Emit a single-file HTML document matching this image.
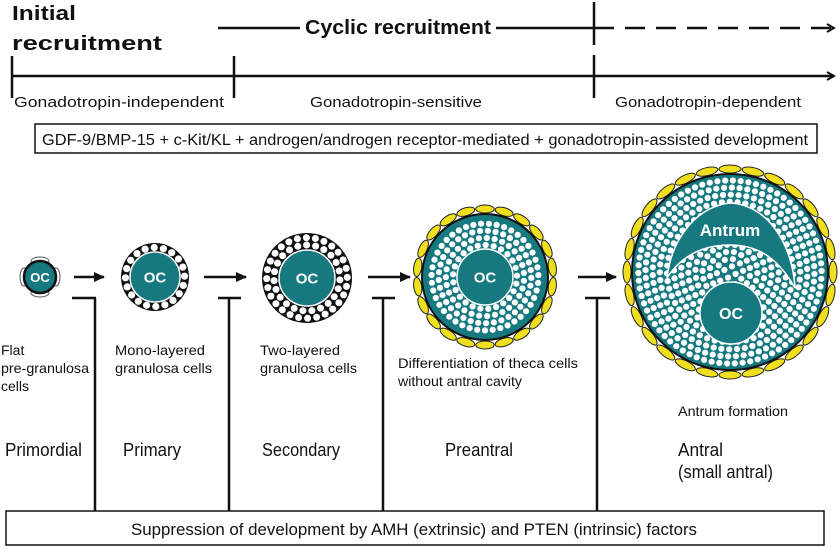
<!DOCTYPE html>
<html><head><meta charset="utf-8"><style>
html,body{margin:0;padding:0;background:#fff;}
svg{display:block;font-family:"Liberation Sans",sans-serif;}
</style></head><body>
<svg id="s" width="840" height="548" viewBox="0 0 840 548" xmlns="http://www.w3.org/2000/svg">
<defs>
<marker id="ah" markerWidth="10" markerHeight="10" refX="8" refY="5" orient="auto" markerUnits="userSpaceOnUse"><path d="M1,1 L8,5 L1,9" fill="none" stroke="#111" stroke-width="2"/></marker>
<marker id="af" markerWidth="12" markerHeight="12" refX="10" refY="6" orient="auto" markerUnits="userSpaceOnUse"><path d="M0,1 L11,6 L0,11 Z" fill="#111"/></marker>
</defs>
<g stroke="#111" stroke-width="2.5" fill="none">
<line x1="218" y1="28" x2="594" y2="28"/>
<line x1="594" y1="28" x2="834" y2="28" stroke-dasharray="20,11" marker-end="url(#ah)"/>
<line x1="12" y1="76" x2="834" y2="76" marker-end="url(#ah)"/>
<line x1="12" y1="56" x2="12" y2="98"/>
<line x1="234" y1="56" x2="234" y2="98"/>
<line x1="594" y1="2" x2="594" y2="45"/>
<line x1="594" y1="55" x2="594" y2="98"/>
</g>
<rect x="300" y="12" width="196" height="26" fill="#fff"/>
<g font-weight="bold" font-size="20" fill="#111">
<text x="305" y="34" textLength="186" lengthAdjust="spacingAndGlyphs">Cyclic recruitment</text>
<text x="12" y="20" textLength="64" lengthAdjust="spacingAndGlyphs">Initial</text>
<text x="12" y="50" textLength="150" lengthAdjust="spacingAndGlyphs">recruitment</text>
</g>
<g font-size="15" fill="#111">
<text x="14" y="107" textLength="210" lengthAdjust="spacingAndGlyphs">Gonadotropin-independent</text>
<text x="310" y="107" textLength="172" lengthAdjust="spacingAndGlyphs">Gonadotropin-sensitive</text>
<text x="615" y="107" textLength="186" lengthAdjust="spacingAndGlyphs">Gonadotropin-dependent</text>
</g>
<rect x="35" y="124" width="782" height="29" fill="#fff" stroke="#111" stroke-width="1.5"/>
<text x="42" y="145" font-size="15.5" textLength="766" lengthAdjust="spacingAndGlyphs" fill="#111">GDF-9/BMP-15 + c-Kit/KL + androgen/androgen receptor-mediated + gonadotropin-assisted development</text>

<g id="fol"></g>

<g stroke="#111" stroke-width="2.5" fill="none">
<line x1="74" y1="277" x2="104" y2="277" marker-end="url(#af)"/>
<line x1="204" y1="277" x2="246" y2="277" marker-end="url(#af)"/>
<line x1="368" y1="277" x2="410" y2="277" marker-end="url(#af)"/>
<line x1="578" y1="277" x2="616" y2="277" marker-end="url(#af)"/>
<line x1="72" y1="298" x2="96" y2="298"/><line x1="95" y1="298" x2="95" y2="511"/>
<line x1="218" y1="298" x2="241" y2="298"/><line x1="229" y1="298" x2="229" y2="511"/>
<line x1="372" y1="298" x2="395" y2="298"/><line x1="383" y1="298" x2="383" y2="511"/>
<line x1="585" y1="298" x2="610" y2="298"/><line x1="597" y1="298" x2="597" y2="511"/>
</g>
<g font-size="14" fill="#111">
<text x="1" y="355">Flat</text>
<text x="1" y="373" textLength="88" lengthAdjust="spacingAndGlyphs">pre-granulosa</text>
<text x="1" y="391">cells</text>
<text x="115" y="355" textLength="90" lengthAdjust="spacingAndGlyphs">Mono-layered</text>
<text x="115" y="373" textLength="97" lengthAdjust="spacingAndGlyphs">granulosa cells</text>
<text x="260" y="355" textLength="80" lengthAdjust="spacingAndGlyphs">Two-layered</text>
<text x="260" y="373" textLength="97" lengthAdjust="spacingAndGlyphs">granulosa cells</text>
<text x="398" y="368" textLength="180" lengthAdjust="spacingAndGlyphs">Differentiation of theca cells</text>
<text x="398" y="386" textLength="124" lengthAdjust="spacingAndGlyphs">without antral cavity</text>
<text x="678" y="416" textLength="110" lengthAdjust="spacingAndGlyphs">Antrum formation</text>
</g>
<g font-size="18" fill="#111">
<text x="5" y="456" textLength="77" lengthAdjust="spacingAndGlyphs">Primordial</text>
<text x="123" y="456" textLength="58" lengthAdjust="spacingAndGlyphs">Primary</text>
<text x="262" y="456" textLength="78" lengthAdjust="spacingAndGlyphs">Secondary</text>
<text x="445" y="456" textLength="68" lengthAdjust="spacingAndGlyphs">Preantral</text>
<text x="678" y="456" textLength="45" lengthAdjust="spacingAndGlyphs">Antral</text>
<text x="678" y="478" textLength="95" lengthAdjust="spacingAndGlyphs">(small antral)</text>
</g>
<rect x="6" y="511" width="818" height="34" fill="#fff" stroke="#111" stroke-width="1.5"/>
<text x="131" y="535" font-size="16.5" textLength="566" lengthAdjust="spacingAndGlyphs" fill="#111">Suppression of development by AMH (extrinsic) and PTEN (intrinsic) factors</text>
</svg>
<script>
(function(){
var NS="http://www.w3.org/2000/svg",g=document.getElementById("fol");
var T="#167980";
function el(n,a,p){var e=document.createElementNS(NS,n);for(var k in a)e.setAttribute(k,a[k]);(p||g).appendChild(e);return e;}
function dots(cx,cy,r0,r1,dr,step){
  step=step||2.3;
  for(var r=r0;r<=r1+0.01;r+=dr*step){
    var n=Math.floor(2*Math.PI*r/(dr*2.5));
    var off=(r*0.37)%1;
    for(var i=0;i<n;i++){var a=(i+off)/n*2*Math.PI;var x=cx+r*Math.cos(a),y=cy+r*Math.sin(a);
      el("circle",{cx:x.toFixed(1),cy:y.toFixed(1),r:dr,fill:"#fff"});}
  }
}
function theca(cx,cy,R,n){
  for(var i=0;i<n;i++){var a=i/n*360;
    el("ellipse",{cx:cx,cy:cy-R,rx:Math.PI*R/n*0.95,ry:4,fill:"#f0df1f",stroke:"#222","stroke-width":1,transform:"rotate("+a+" "+cx+" "+cy+")"});}
}
function oc(cx,cy,r,fs){el("circle",{cx:cx,cy:cy,r:r,fill:T,stroke:"#fff","stroke-width":1.5});
  var t=el("text",{x:cx,y:cy+fs*0.36,"text-anchor":"middle","font-size":fs,"font-weight":"bold",fill:"#fff"});t.textContent="OC";}
// primordial
[[40,261],[40,293],[24,277],[56,277]].forEach(function(p){el("ellipse",{cx:p[0],cy:p[1],rx:p[1]==277?4:9,ry:p[1]==277?9:4,fill:"#fff",stroke:"#555","stroke-width":1});});
el("circle",{cx:40,cy:277,r:16,fill:T,stroke:"#111","stroke-width":2.5});
var t=el("text",{x:40,y:282,"text-anchor":"middle","font-size":13,"font-weight":"bold",fill:"#fff"});t.textContent="OC";
// primary
el("circle",{cx:155,cy:277,r:34,fill:"#111"});
dots(155,277,29.5,29.5,3.6);
oc(155,277,25,15);
// secondary
el("circle",{cx:307,cy:278,r:45,fill:"#111"});
dots(307,278,33,40.5,3.5,2.1);
oc(307,278,28,15);
// preantral
theca(485,277,68,22);
el("circle",{cx:485,cy:277,r:64,fill:"#111"});
el("circle",{cx:485,cy:277,r:62,fill:T});
dots(485,277,32,58,3.1);
oc(485,277,28,15);
// antral
theca(730,272,103,28);
el("circle",{cx:730,cy:272,r:99,fill:"#111"});
el("circle",{cx:730,cy:272,r:97,fill:T});
dots(730,272,6,93,3.1);
el("path",{d:"M667,278 C672,235 700,205 731,203 C765,205 792,240 795,288 C778,258 758,245 730,245 C700,245 680,258 667,278 Z",fill:T,stroke:"#fff","stroke-width":1.5});
var a=el("text",{x:730,y:236,"text-anchor":"middle","font-size":17,"font-weight":"bold",fill:"#fff"});a.textContent="Antrum";
oc(731,313,31,16);
})();
</script>
</body></html>
